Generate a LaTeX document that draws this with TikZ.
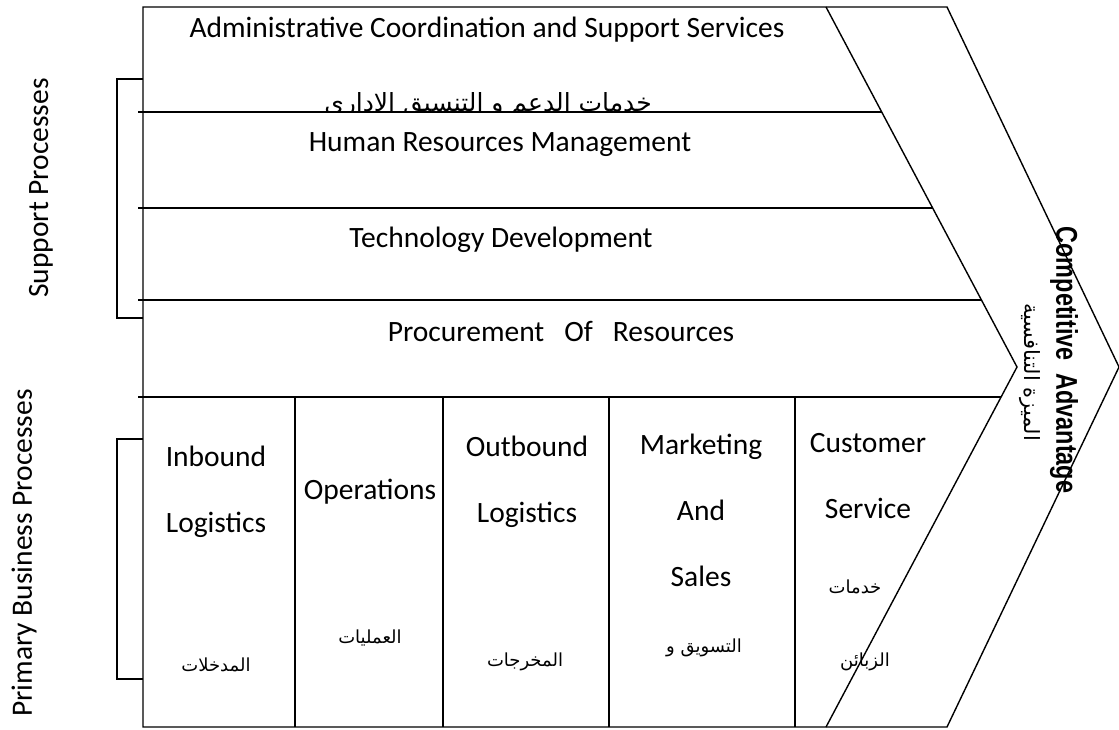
\documentclass[tikz,border=0pt]{standalone}
\usepackage{fontspec}
\setmainfont{Carlito}
\newfontfamily\arabicfont[Script=Arabic]{DejaVu Sans}
\newfontfamily\headfont[FakeStretch=0.78]{Liberation Sans}
\TeXXeTstate=1

\tikzset{
  frame/.style={line width=1.4pt},
  txt/.style={font=\fontsize{29.5}{66}\selectfont, inner sep=0pt, align=center},
  artxt/.style={font=\arabicfont\fontsize{18}{22}\selectfont, inner sep=0pt},
}

\begin{document}
\begin{tikzpicture}[x=1pt,y=-1pt]
	\useasboundingbox (0,0) rectangle (1119,729);
	% support rows
	\node[txt] (AC) at (487, 30) {Administrative Coordination and Support Services};
	\begin{scope}
		\clip (143,7) rectangle (826,112);
		\node[artxt, font=\arabicfont\fontsize{25}{30}\selectfont, anchor=base] (ACa) at (488, 111) {\beginR خدمات الدعم و التنسيق الاداري\endR};
	\end{scope}
	\node[txt] (HR) at (500, 145) {Human Resources Management};
	\node[txt] (TD) at (501, 240) {Technology Development};
	\node[txt] (PR) at (561, 331) {Procurement\ \ \ Of\ \ \ Resources};
	% primary columns
	\node[txt] (IL) at (216, 492) {Inbound\\Logistics};
	\node[artxt] (ILa) at (216, 665) {\beginR المدخلات\endR};
	\node[txt] (OP) at (370, 492) {Operations};
	\node[artxt] (OPa) at (370, 638) {\beginR العمليات\endR};
	\node[txt] (OL) at (527, 482) {Outbound\\Logistics};
	\node[artxt] (OLa) at (525, 662) {\beginR المخرجات\endR};
	\node[txt] (MS) at (701, 510) {Marketing\\And\\Sales};
	\node[artxt] (MSa) at (704, 648) {\beginR التسويق و\endR};
	\node[txt] (CS) at (868, 476) {Customer\\Service};
	\node[artxt] (CSa) at (855, 587) {\beginR خدمات\endR};
	\node[artxt] (CSb) at (865, 662) {\beginR الزبائن\endR};
	% margin
	\node[txt, rotate=90] (SP) at (41, 188) {Support Processes};
	\node[txt, rotate=90] (PB) at (24, 553) {Primary Business Processes};
	% chevron
	\node[rotate=-90, inner sep=0pt, font=\headfont\bfseries\fontsize{30}{34}\selectfont] (CA) at (1064, 360) {Competitive\ \ Advantage};
	\node[rotate=-90, artxt, font=\arabicfont\fontsize{21}{25}\selectfont] (CAa) at (1030, 372) {\beginR الميزة التنافسية\endR};

	\draw[frame] (143,7) -- (947,7) -- (1119,367) -- (947,727) -- (143,727) -- cycle;
	\draw[frame] (826,7) -- (1017,367) -- (826,727);
	\draw[frame] (138,112) -- (882,112);
	\draw[frame] (138,208) -- (933,208);
	\draw[frame] (138,300) -- (982,300);
	\draw[frame] (138,397) -- (1001,397);
	\foreach \x in {295,443,609,795}
		\draw[frame] (\x,397) -- (\x,727);
	\draw[frame] (143,79) -- (117,79) -- (117,318) -- (143,318);
	\draw[frame] (143,439) -- (117,439) -- (117,679) -- (143,679);
\end{tikzpicture}
\end{document}
